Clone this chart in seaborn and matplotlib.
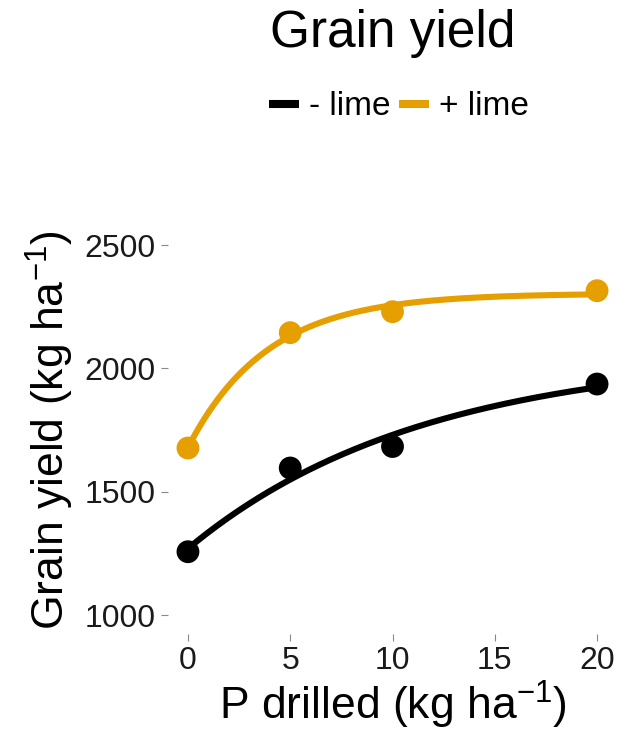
import numpy as np
import pandas as pd
import matplotlib
matplotlib.use('Agg')
import matplotlib.pyplot as plt
import seaborn as sns
from matplotlib.lines import Line2D

# Data
p_drilled = [0, 5, 10, 20]
yield_no_lime = [1258, 1597, 1684, 1937]
yield_lime = [1678, 2145, 2230, 2315]
groups = ['- lime', '+ lime']
colors = {'- lime': '#000000', '+ lime': '#E69F00'}

df = pd.DataFrame({
    'P': p_drilled * 2,
    'yield': yield_no_lime + yield_lime,
    'lime': [groups[0]] * 4 + [groups[1]] * 4,
})


# Mitscherlich fit y = a - b*exp(-c*x): grid on c, least squares for a, b
def fit_mitscherlich(x, y):
    x = np.asarray(x, float)
    y = np.asarray(y, float)
    best = None
    for c in np.linspace(0.005, 1.0, 2000):
        A = np.column_stack([np.ones_like(x), -np.exp(-c * x)])
        coef, *_ = np.linalg.lstsq(A, y, rcond=None)
        sse = np.sum((A @ coef - y) ** 2)
        if best is None or sse < best[0]:
            best = (sse, coef[0], coef[1], c)
    return best[1:]


xs = np.linspace(0, 20, 200)
curves = []
for g in groups:
    sub = df[df['lime'] == g]
    a, b, c = fit_mitscherlich(sub['P'], sub['yield'])
    curves.append(pd.DataFrame({'P': xs, 'yield': a - b * np.exp(-c * xs), 'lime': g}))
curves = pd.concat(curves)

sns.set_style('white')
plt.rcParams['font.family'] = ['Liberation Sans', 'DejaVu Sans']
plt.rcParams['mathtext.default'] = 'regular'
plt.rcParams['text.color'] = 'black'
plt.rcParams['axes.labelcolor'] = 'black'

fig = plt.figure(figsize=(6.19, 7.37), dpi=100)
ax = fig.add_axes([0.2706, 0.1398, 0.727, 0.5529])

sns.lineplot(data=curves, x='P', y='yield', hue='lime', palette=colors,
             linewidth=4.4, legend=False, ax=ax)
sns.scatterplot(data=df, x='P', y='yield', hue='lime', palette=colors,
                s=270, edgecolor='none', legend=False, ax=ax, zorder=3)

ax.set_xlim(-1, 21)
ax.set_ylim(925, 2575)
ax.set_xticks([0, 5, 10, 15, 20])
ax.set_yticks([1000, 1500, 2000, 2500])
for s in ax.spines.values():
    s.set_visible(False)
ax.tick_params(axis='both', length=5, width=0.8, color='#888888',
               labelsize=23, labelcolor='#1a1a1a', pad=3.5, left=True, bottom=True)
ax.set_xlabel('P drilled (kg ha$^{-1}$)', fontsize=32, labelpad=2)
ax.set_ylabel('Grain yield (kg ha$^{-1}$)', fontsize=32, labelpad=6)

fig.text(0.634, 1 - 47 / 737, 'Grain yield', fontsize=37, ha='center', va='baseline')

handles = [Line2D([], [], color=colors[g], linewidth=5.8, solid_capstyle='butt') for g in groups]
fig.legend(handles, groups, loc='center', bbox_to_anchor=(0.645, 0.855), ncol=2,
           frameon=False, fontsize=24, handlelength=0.9, handletextpad=0.3,
           columnspacing=0.25, borderpad=0, borderaxespad=0)

fig.savefig('out.png', dpi=100)
